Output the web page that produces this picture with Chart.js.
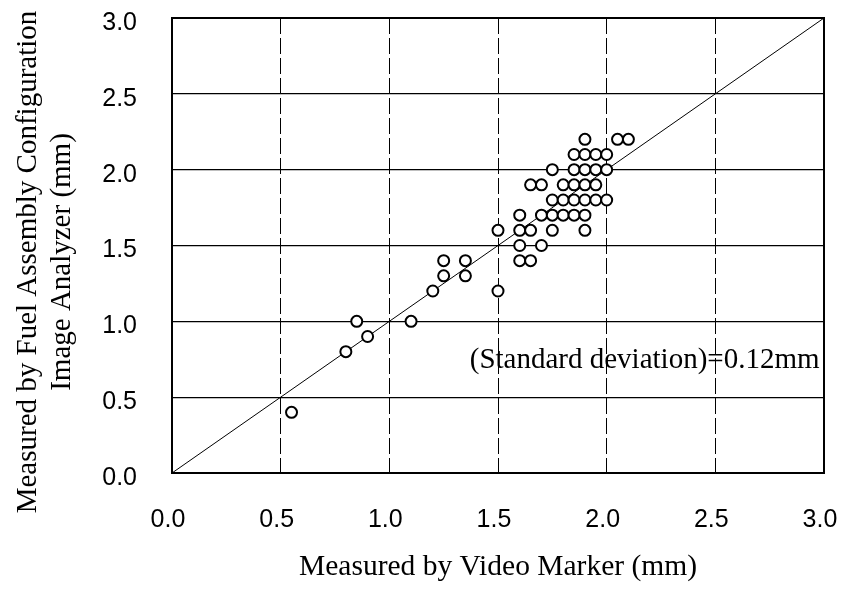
<!DOCTYPE html>
<html>
<head>
<meta charset="utf-8">
<script src="https://cdn.jsdelivr.net/npm/chart.js@4.4.0/dist/chart.umd.min.js"></script>
<style>
  html, body { margin: 0; padding: 0; background: #fff; }
  #wrap { width: 844px; height: 591px; }
</style>
</head>
<body>
<div id="wrap"><canvas id="plot" width="844" height="591"></canvas></div>
<script>
// measured values (mm)
var videoMarker = [0.55, 0.8, 0.85, 0.9, 1.1, 1.2, 1.25, 1.25, 1.35, 1.35, 1.5, 1.5,
    1.6, 1.65, 1.6, 1.7, 1.6, 1.65, 1.75, 1.9, 1.6, 1.7, 1.75, 1.8, 1.85, 1.9,
    1.75, 1.8, 1.85, 1.9, 1.95, 2.0, 1.65, 1.7, 1.8, 1.85, 1.9, 1.95,
    1.75, 1.85, 1.9, 1.95, 2.0, 1.85, 1.9, 1.95, 2.0, 1.9, 2.05, 2.1];
var imageAnalyzer = [0.4, 0.8, 1.0, 0.9, 1.0, 1.2, 1.3, 1.4, 1.3, 1.4, 1.2, 1.6,
    1.4, 1.4, 1.5, 1.5, 1.6, 1.6, 1.6, 1.6, 1.7, 1.7, 1.7, 1.7, 1.7, 1.7,
    1.8, 1.8, 1.8, 1.8, 1.8, 1.8, 1.9, 1.9, 1.9, 1.9, 1.9, 1.9,
    2.0, 2.0, 2.0, 2.0, 2.0, 2.1, 2.1, 2.1, 2.1, 2.2, 2.2, 2.2];

// y = x reference line
var refX = [0, 3];
var refY = [0, 3];

var xTicks = [0, 0.5, 1.0, 1.5, 2.0, 2.5, 3.0];
var yTicks = [0, 0.5, 1.0, 1.5, 2.0, 2.5, 3.0];

var noteText = '(Standard deviation)=0.12mm';
var notePos = [1.37, 0.74];

var yTitle = ['Measured by Fuel Assembly Configuration', 'Image Analyzer (mm)'];
var xTitle = 'Measured by Video Marker (mm)';

var serif = '"Liberation Serif", "DejaVu Serif", serif';
var sans = '"Liberation Sans", Arial, sans-serif';

var points = videoMarker.map(function(v, i) { return { x: v, y: imageAnalyzer[i] }; });
var refLine = refX.map(function(v, i) { return { x: v, y: refY[i] }; });

// frame, y title and the note
var extras = {
    id: 'extras',
    afterDraw: function(chart) {
        var ctx = chart.ctx, a = chart.chartArea;
        var xs = chart.scales.x, ys = chart.scales.y;
        ctx.save();
        ctx.strokeStyle = '#000';
        ctx.lineWidth = 2;
        ctx.strokeRect(a.left, a.top, a.right - a.left, a.bottom - a.top);

        ctx.fillStyle = '#000';
        ctx.font = '29px ' + serif;
        ctx.textAlign = 'left';
        ctx.textBaseline = 'middle';
        ctx.fillText(noteText, xs.getPixelForValue(notePos[0]), ys.getPixelForValue(notePos[1]));

        ctx.translate(0, 262);
        ctx.rotate(-Math.PI / 2);
        ctx.textAlign = 'center';
        ctx.textBaseline = 'alphabetic';
        ctx.fillText(yTitle[0], 0, 36);
        ctx.fillText(yTitle[1], 0, 70);
        ctx.restore();
    }
};

var ctx = document.getElementById('plot').getContext('2d');
var chart = new Chart(ctx, {
    type: 'scatter',
    data: {
        datasets: [{
            data: points,
            pointRadius: 5.5,
            pointBorderWidth: 2,
            pointBorderColor: '#000',
            pointBackgroundColor: '#fff',
            order: 0
        }, {
            type: 'line',
            data: refLine,
            borderColor: '#000',
            borderWidth: 1,
            pointRadius: 0,
            fill: false,
            order: 1
        }]
    },
    options: {
        responsive: false,
        animation: false,
        devicePixelRatio: 1,
        layout: { padding: { left: 0, right: 20, top: 18, bottom: 0 } },
        plugins: { legend: { display: false }, tooltip: { enabled: false } },
        scales: {
            x: {
                type: 'linear',
                min: 0, max: 3,
                afterBuildTicks: function(s) { s.ticks = xTicks.map(function(v) { return { value: v }; }); },
                afterFit: function(s) { s.height = 118; s.paddingLeft = 0; s.paddingRight = 0; },
                grid: { color: '#000', lineWidth: 1, drawTicks: false },
                border: { display: false, dash: [16, 4] },
                ticks: {
                    color: '#000',
                    font: { family: sans, size: 25 },
                    padding: 32,
                    labelOffset: -4,
                    maxRotation: 0,
                    callback: function(v) { return Number(v).toFixed(1); }
                },
                title: {
                    display: true,
                    text: xTitle,
                    color: '#000',
                    font: { family: serif, size: 29.5, lineHeight: 1.2 },
                    padding: { top: 0, bottom: 6 }
                }
            },
            y: {
                type: 'linear',
                min: 0, max: 3,
                afterBuildTicks: function(s) { s.ticks = yTicks.map(function(v) { return { value: v }; }); },
                afterFit: function(s) { s.width = 172; s.paddingTop = 0; s.paddingBottom = 0; },
                grid: { color: '#000', lineWidth: 1.3, drawTicks: false },
                border: { display: false },
                ticks: {
                    color: '#000',
                    font: { family: sans, size: 25 },
                    padding: 35,
                    labelOffset: 5,
                    callback: function(v) { return Number(v).toFixed(1); }
                }
            }
        }
    },
    plugins: [extras]
});
</script>
</body>
</html>
